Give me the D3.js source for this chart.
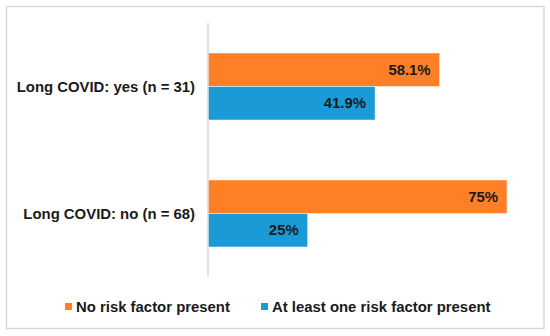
<!DOCTYPE html>
<html><head><meta charset="utf-8">
<script src="https://cdn.jsdelivr.net/npm/d3@7"></script>
<style>body{margin:0;background:#fff}svg{display:block}</style>
</head><body>
<svg id="c" width="550" height="336"></svg>
<script>
const categories = ["Long COVID: yes (n = 31)", "Long COVID: no (n = 68)"];
const seriesNames = ["No risk factor present", "At least one risk factor present"];
const noRisk = [58.1, 75];
const atLeastOne = [41.9, 25];
const valueLabels = [["58.1%", "41.9%"], ["75%", "25%"]];
const colors = ["#FF7F27", "#1A9BD7"];

const svg = d3.select("#c");
const font = "Liberation Sans, Arial, sans-serif";
const fs = 14.9;
svg.append("rect").attr("x", 6.5).attr("y", 6.5).attr("width", 537.5).attr("height", 322)
  .attr("fill", "#fff").attr("stroke", "#d9d9d9").attr("stroke-width", 1.5);

const x0 = 208;
const x = d3.scaleLinear().domain([0, 75]).range([x0, 507]);
const y = d3.scaleBand().domain(categories).range([23, 277]).paddingInner(0).paddingOuter(0);
const barH = 33.5;

const data = categories.map((c, i) => ({cat: c, vals: [noRisk[i], atLeastOne[i]], labels: valueLabels[i]}));

data.forEach((d) => {
  const cy = y(d.cat) + y.bandwidth() / 2;
  d.vals.forEach((v, j) => {
    const top = cy - barH + j * barH;
    svg.append("rect").attr("x", x(0)).attr("y", top).attr("width", x(v) - x(0)).attr("height", barH)
      .attr("fill", colors[j]).attr("stroke", "rgba(255,255,255,0.6)").attr("stroke-width", 0.8);
    svg.append("text").attr("x", x(v) - 9).attr("y", top + barH / 2).attr("dy", "0.35em")
      .attr("text-anchor", "end").attr("font-family", font).attr("font-weight", "bold")
      .attr("font-size", fs).attr("fill", "#1a1a1a").text(d.labels[j]);
  });
  svg.append("text").attr("x", 195).attr("y", cy).attr("dy", "0.35em").attr("text-anchor", "end")
    .attr("font-family", font).attr("font-weight", "bold").attr("font-size", fs).attr("fill", "#1a1a1a")
    .text(d.cat);
});

svg.append("line").attr("x1", x0).attr("x2", x0).attr("y1", 23).attr("y2", 277)
  .attr("stroke", "#d9d9d9").attr("stroke-width", 1.5);

const legendX = [65, 261];
seriesNames.forEach((n, j) => {
  svg.append("rect").attr("x", legendX[j]).attr("y", 303).attr("width", 7).attr("height", 7).attr("fill", colors[j]);
  svg.append("text").attr("x", legendX[j] + 11).attr("y", 306.5).attr("dy", "0.35em")
    .attr("font-family", font).attr("font-weight", "bold").attr("font-size", fs).attr("fill", "#1a1a1a").text(n);
});
</script>
</body></html>
